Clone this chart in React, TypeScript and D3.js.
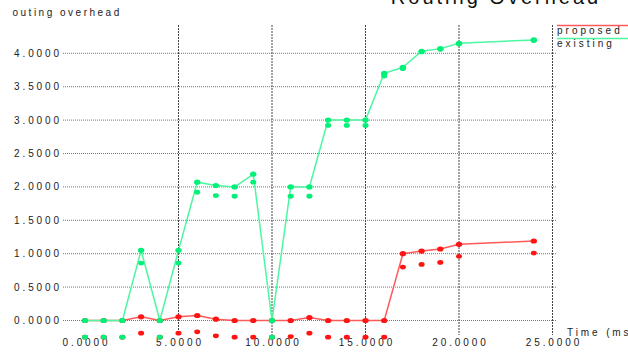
import React from 'react';
import * as d3 from 'd3';

// x values (time, ms)
const times = [0, 1, 2, 3, 4, 5, 6, 7, 8, 9, 10, 11, 12, 13, 14, 15, 16, 17, 18, 19, 20, 24];

// existing protocol: main line and lower markers
const existing = [0, 0, 0, 1.05, 0, 1.05, 2.07, 2.02, 2.0, 2.19, 0, 2.0, 2.0, 3.0, 3.0, 3.0, 3.7, 3.79, 4.03, 4.07, 4.15, 4.2];
const existingLow = [-0.25, -0.25, -0.25, 0.86, -0.25, 0.86, 1.92, 1.87, 1.86, 2.07, -0.25, 1.86, 1.86, 2.92, 2.92, 2.92, 3.66, 3.77, 4.02, 4.06, 4.14, 4.19];

// proposed protocol
const proposed = [0, 0, 0, 0.055, 0, 0.055, 0.075, 0.02, 0, 0, 0, 0, 0.045, 0, 0, 0, 0, 1.0, 1.04, 1.07, 1.14, 1.19];
const proposedLow = [-0.25, -0.25, -0.25, -0.19, -0.25, -0.19, -0.17, -0.23, -0.25, -0.25, -0.25, -0.24, -0.19, -0.25, -0.25, -0.25, -0.25, 0.8, 0.84, 0.87, 0.96, 1.01];

const xTicks = [0, 5, 10, 15, 20, 25];
const yTicks = [0, 0.5, 1, 1.5, 2, 2.5, 3, 3.5, 4];
const vGrid = [5, 10, 15, 20, 25];

const seriesNames = ['proposed', 'existing'];

const W = 628;
const H = 352;
const FONT = "'Liberation Sans', Arial, sans-serif";

export default function App() {
  const x = d3.scaleLinear().domain([0, 25]).range([85, 552.5]);
  const y = d3.scaleLinear().domain([0, 4]).range([320.5, 53.3]);
  const left = 63;
  const right = 557;
  const top = 25;
  const bottom = 335;

  const line = d3.line<number>()
    .x((_, i) => x(times[i]))
    .y(d => y(d));

  const fmt = d3.format('.4f');

  const series = [
    { name: seriesNames[0], vals: proposed, low: proposedLow, line: '#ff5a5a', mark: '#ff1414' },
    { name: seriesNames[1], vals: existing, low: existingLow, line: '#4cf7a0', mark: '#00f078' },
  ];

  return (
    <svg width={W} height={H} style={{ position: 'fixed', left: 0, top: 0, background: '#fff' }}
      fontFamily={FONT}>
      {/* title, clipped at top */}
      <text x={496} y={4} fontSize={20} letterSpacing={3} textAnchor="middle" fill="#111">Routing Overhead</text>
      <text x={12.5} y={16} fontSize={10} letterSpacing={2.5} fill="#222">outing overhead</text>

      {/* horizontal grid */}
      {yTicks.map(t => (
        <g key={'h' + t}>
          <line x1={left} x2={right} y1={y(t)} y2={y(t)} stroke="#777" strokeWidth={1} strokeDasharray="1,1" />
          <text x={62} y={y(t)} dy="0.35em" fontSize={10} letterSpacing={2.9} textAnchor="end" fill="#222">{fmt(t)}</text>
        </g>
      ))}

      {/* vertical grid */}
      {vGrid.map(t => (
        <line key={'v' + t} x1={x(t)} x2={x(t)} y1={top} y2={bottom} stroke="#444" strokeWidth={1} strokeDasharray="2,1" />
      ))}

      {xTicks.map(t => (
        <text key={'xt' + t} x={x(t) + 1.5} y={346} fontSize={10} letterSpacing={2.9} textAnchor="middle" fill="#222">{fmt(t)}</text>
      ))}
      <text x={567} y={336} fontSize={10} letterSpacing={2.9} fill="#222">Time (ms)</text>

      {series.map(s => (
        <g key={s.name}>
          <path d={line(s.vals) || ''} fill="none" stroke={s.line} strokeWidth={1.5} />
          {s.vals.map((v, i) => (
            <ellipse key={'m' + i} cx={x(times[i])} cy={y(v)} rx={3.2} ry={2.6} fill={s.mark} />
          ))}
          {s.low.map((v, i) => (
            <ellipse key={'l' + i} cx={x(times[i])} cy={y(v)} rx={3} ry={2.4} fill={s.mark} />
          ))}
        </g>
      ))}

      {/* legend */}
      {series.map((s, i) => (
        <g key={'lg' + s.name}>
          <line x1={557} x2={628} y1={25.5 + i * 13} y2={25.5 + i * 13} stroke={s.line} strokeWidth={1.5} />
          <text x={557} y={33.5 + i * 13.5} fontSize={10} letterSpacing={3} fill="#222">{s.name}</text>
        </g>
      ))}
    </svg>
  );
}
